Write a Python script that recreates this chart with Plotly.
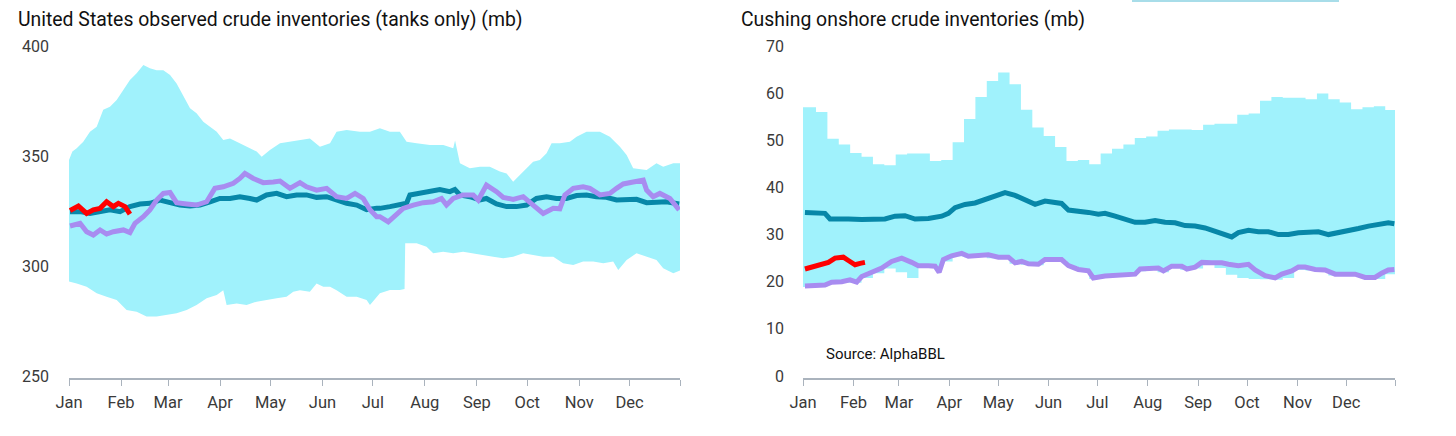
import plotly.graph_objects as go

W, H = 1456, 436

MONTHS = ["Jan", "Feb", "Mar", "Apr", "May", "Jun", "Jul", "Aug", "Sep", "Oct", "Nov", "Dec", ""]
MONTH_DAYS = [0, 31, 59, 90, 120, 151, 181, 212, 243, 273, 304, 334, 364]

# ---------------- US observed crude (tanks only), mb ----------------
us_band_hi_day = [0, 2, 4.6, 8.5, 12.5, 16.5, 20.4, 24.4, 28.4, 32.4, 36.3, 40.3, 44.3, 48.2, 52.2, 56.2,
                  60.2, 64.1, 68.1, 72.1, 76, 80, 84, 88, 91.9, 95.9, 99.9, 103.8, 107.8, 111.8, 114.8,
                  119.7, 125.7, 131.6, 137.6, 143.5, 149.5, 155.5, 159.4, 165.4, 173.3, 179.3, 185.2,
                  191.2, 197.1, 201.1, 207.1, 215, 223, 228.9, 230, 231, 232.9, 238.8, 244.8, 250.7,
                  256.7, 260.7, 264.6, 268.6, 272.6, 276.5, 280.5, 284.5, 287.5, 292.4, 298.4, 302.4,
                  308.3, 316.3, 322.2, 328.2, 332.2, 336.1, 344.1, 350, 354, 360, 364]
us_band_hi = [348.2, 352, 353.5, 356.5, 361, 363.3, 371, 372.4, 375.5, 380, 384.5, 387.6, 391.4, 389.9,
              389, 389, 386.8, 383, 377, 371.7, 369.4, 365.6, 363.3, 361, 357.3, 358, 356.5, 355, 353.5,
              352, 349.7, 352.7, 355.8, 356.5, 357.3, 358, 354.2, 355.8, 361, 361.8, 361, 361, 362.6,
              361, 361, 356.5, 355.8, 355, 355, 353.5, 357, 353, 346.7, 344.4, 345.1, 345.1, 342.9,
              342.1, 338.3, 341.4, 344.4, 347.4, 348.2, 351.2, 355.8, 355.8, 356.5, 358.8, 361, 361,
              358.8, 354.2, 350.5, 344.4, 343.6, 346.7, 345.1, 346.7, 346.7]

us_band_lo_day = [0, 4.6, 10.5, 16.5, 22.4, 28.4, 34.3, 40.3, 46.2, 52.2, 58.2, 64.1, 70.1, 76, 82, 88,
                  91.9, 93.9, 99.9, 105.8, 111.8, 117.7, 123.7, 129.6, 133.6, 137.6, 143.5, 147.5,
                  151.5, 155.5, 159.4, 165.4, 171.4, 177.3, 179.3, 185.2, 191.2, 197.1, 199.9, 200.3,
                  207.1, 213, 217, 222.9, 228.9, 234.8, 240.8, 246.8, 252.7, 258.7, 264.6, 270.6,
                  276.5, 282.5, 288.5, 294.4, 300.4, 306.3, 312.3, 318.3, 324.2, 327.2, 332.2, 338.1,
                  344.1, 350, 354, 360, 364]
us_band_lo = [292.9, 292.1, 290.6, 287.6, 286, 284.5, 280, 279.2, 277, 277, 277.7, 278.5, 280, 282.3,
              285.3, 286.8, 289, 282.3, 283, 282.3, 283.8, 284.5, 285.3, 286, 288.3, 289, 288.3, 292.1,
              290.6, 290.6, 289, 286, 286, 284.5, 282.3, 287.6, 289.1, 289.1, 289.5, 310.3, 310.3,
              308.8, 305.8, 306.5, 305.8, 306.5, 305.8, 305, 304.2, 303.5, 304.2, 305.8, 305, 304.2,
              304.2, 301.2, 300.5, 302, 302, 301.2, 302, 298.2, 302.7, 305.8, 304.2, 302.7, 299,
              296.7, 298]

us_avg_day = [0.6, 6.6, 12.5, 18.5, 24.4, 30.4, 36.3, 42.3, 48.2, 54.2, 60.2, 66.1, 72.1, 78, 84, 89.9,
              95.9, 101.8, 107.8, 111.8, 117.7, 123.7, 129.6, 135.6, 141.5, 147.5, 153.5, 159.4,
              165.4, 171.4, 177.3, 183.3, 185.2, 191.2, 197.1, 201.1, 203.1, 209, 215, 220.9, 226.9,
              229.9, 232.9, 238.8, 244.8, 248.7, 254.7, 260.7, 266.6, 272.6, 278.5, 284.5, 290.4,
              296.4, 302.4, 308.3, 314.2, 320.2, 326.2, 332.2, 338.1, 344.1, 350, 356, 363.5]
us_avg = [324.7, 324.7, 323.9, 324.7, 325.5, 324.7, 327, 328.2, 328.5, 330, 328.8, 327.7, 327.3, 327.7,
          329.2, 330.7, 330.7, 331.5, 330.7, 330, 332.3, 333, 331.5, 332.3, 332.3, 331.2, 331.5, 330,
          328.5, 327.7, 325.6, 326.3, 326.2, 327, 327.7, 328.5, 332.3, 333, 334.1, 334.8, 333.8,
          334.8, 332.3, 331.5, 330, 330.7, 328.2, 327, 327, 327.7, 330.7, 331.5, 330.7, 330.7, 332,
          332.3, 331.5, 331.2, 330, 330, 330.3, 328.8, 329.2, 329.2, 328.2]

us_prev_day = [0.6, 6.6, 10.5, 14.5, 18.5, 22.4, 26.4, 32.4, 36.3, 39.3, 44.3, 48.2, 52.2, 56.2, 60.2,
               64.1, 70.1, 76, 82, 86.9, 91.9, 97.9, 101.8, 104.8, 109.8, 115.7, 121.7, 125.7, 131.6,
               137.6, 141.5, 147.5, 153.5, 159.4, 165.4, 170.4, 175.3, 179.3, 183.3, 185.2, 190.2,
               195.2, 199.1, 205.1, 211, 217, 221.9, 224.9, 228.9, 234.8, 240.8, 243.8, 248.7, 254.7,
               258.7, 264.6, 270.6, 276.5, 282.5, 288.5, 292.4, 295.4, 300.4, 306.3, 310.3, 316.3,
               322.2, 326.2, 330.2, 336.1, 342.1, 344.1, 348, 352, 358, 363.5]
us_prev = [318.2, 319.4, 315.6, 314.1, 316.4, 314.5, 315.6, 316.4, 315.2, 319.4, 322.4, 325.5, 330, 333,
           333.4, 328.8, 328.2, 327.7, 329.2, 335.3, 336, 337.6, 339.8, 342.1, 339.8, 337.9, 338.2,
           338.6, 335.3, 337.9, 336, 334.5, 335.3, 331.5, 330.7, 333, 330.7, 325.6, 322.4, 322.4,
           320.1, 323.2, 326.2, 327.7, 328.8, 329.2, 330.7, 327.7, 330.7, 332.3, 332.3, 330, 336.8,
           333.8, 331.2, 330.3, 331.5, 327.7, 323.9, 326.2, 326, 332.3, 335.3, 336, 335.3, 332.3,
           333, 335.3, 337.3, 338.2, 339, 334.5, 331.5, 333, 330.7, 325.5]

us_cur_day = [0.6, 5.6, 10.5, 14.5, 18.5, 22.4, 26.4, 29.4, 33.4, 36.3]
us_cur = [325.2, 327.3, 323.9, 325.5, 326.2, 329.2, 327, 328.5, 327, 323.6]

# ---------------- Cushing onshore crude, mb (weekly band) ----------------
cu_band_hi = [57.0, 56.0, 50.3, 49.1, 47.3, 46.5, 44.9, 44.7, 47.0, 47.2, 47.2, 45.6, 45.8, 49.6, 54.5,
              59.2, 62.6, 64.4, 61.9, 56.5, 52.7, 50.9, 48.6, 45.6, 45.8, 44.9, 47.2, 48.2, 49.1, 50.5,
              50.8, 52.0, 52.3, 52.3, 52.2, 53.3, 53.5, 53.5, 55.4, 55.7, 58.4, 59.2, 59.0, 59.0, 58.7,
              59.9, 58.7, 58.0, 56.6, 57.0, 57.2, 56.4]
cu_band_lo = [18.9, 19.0, 19.6, 19.8, 19.8, 20.8, 21.8, 22.8, 22.0, 20.8, 23.2, 23.0, 24.3, 25.4, 25.2,
              25.3, 25.0, 25.0, 23.8, 23.6, 23.5, 24.5, 24.5, 23.2, 22.3, 20.6, 20.9, 21.1, 21.3, 22.2,
              22.6, 22.0, 23.0, 22.5, 22.8, 23.8, 22.9, 21.5, 20.8, 20.6, 20.5, 20.4, 20.8, 22.5, 22.4,
              22.2, 21.3, 21.2, 21.3, 20.6, 20.6, 21.6]

cu_avg_day = [1.2, 7.4, 13.5, 16.6, 21.7, 27.9, 36.1, 44.3, 50.4, 56.6, 62.7, 68.9, 77.1, 85.3, 89.4,
              93.5, 99.6, 105.8, 111.9, 118.1, 124.2, 130.4, 136.5, 142.7, 148.8, 155, 159, 163.2,
              169.3, 175.5, 181.6, 185.7, 191.9, 198, 204.2, 210.3, 216.5, 222.6, 228.8, 234.9, 241.1,
              247.2, 253.4, 259.5, 263.6, 267.7, 273.9, 280, 286.2, 292.3, 298.5, 304.6, 310.8, 316.9,
              323.1, 329.2, 335.4, 341.5, 347.7, 353.8, 359.9, 363.6]
cu_avg = [34.7, 34.7, 34.5, 33.3, 33.4, 33.3, 33.2, 33.4, 33.3, 33.9, 34.0, 33.3, 33.4, 33.9, 34.5, 35.7,
          36.4, 36.7, 37.4, 38.1, 38.9, 38.3, 37.4, 36.4, 37.1, 36.9, 36.6, 35.2, 35.0, 34.7, 34.3, 34.5,
          33.9, 33.3, 32.6, 32.6, 33.0, 32.6, 32.5, 31.9, 31.8, 31.4, 30.7, 30.0, 29.5, 30.4, 30.9, 30.6,
          30.6, 30.0, 30.0, 30.4, 30.6, 30.6, 30.0, 30.4, 30.7, 31.3, 31.8, 32.1, 32.5, 32.3]

cu_prev_day = [1.2, 7.4, 13.5, 17.6, 23.8, 28.9, 33, 36.1, 42.2, 48.4, 54.5, 60.7, 66.8, 70.9, 77.1, 81.2,
               83.7, 86.3, 91.4, 97.6, 101.7, 107.8, 114, 120.1, 126.3, 130.4, 134.5, 138.6, 144.7,
               148.8, 155, 159, 163.2, 169.3, 175.5, 178.5, 185.7, 191.9, 198, 204.2, 207.3, 212.4,
               218.5, 221.6, 226.7, 232.9, 236, 241.1, 245.2, 251.3, 257.5, 261.6, 267.7, 273.9, 278,
               284.1, 290.3, 294.4, 300.5, 304.6, 308.7, 314.9, 321, 327.2, 333.3, 339.5, 345.6, 351.7,
               355.8, 359.9, 363.6]
cu_prev = [19.1, 19.1, 19.3, 19.9, 20.0, 20.4, 19.9, 21.1, 22.0, 22.9, 24.3, 25.0, 24.1, 23.4, 23.4, 23.3,
           22.0, 24.7, 25.5, 26.0, 25.4, 25.5, 25.7, 25.2, 25.2, 24.0, 24.3, 23.8, 23.7, 24.7, 24.8, 24.7,
           23.4, 22.6, 22.3, 20.8, 21.2, 21.3, 21.5, 21.6, 22.7, 22.9, 22.9, 22.3, 23.3, 23.3, 22.7, 23.1,
           24.1, 24.0, 24.0, 23.7, 23.4, 23.7, 22.5, 21.3, 20.8, 21.6, 22.3, 23.1, 23.1, 22.6, 22.5, 21.6,
           21.5, 21.6, 20.9, 20.9, 21.8, 22.5, 22.6]

cu_cur_day = [1.2, 5.3, 11.5, 15.6, 19.7, 24.8, 27.9, 32, 35.1, 38.1]
cu_cur = [22.7, 23.1, 23.6, 24.1, 25.0, 25.2, 24.5, 23.6, 23.9, 24.1]

# week start days for the weekly Cushing band (last point closes the year)
cu_week_day = [0] + [1 + 7 * k for k in range(1, len(cu_band_hi))] + [364]
cu_band_hi_s = cu_band_hi + [cu_band_hi[-1]]
cu_band_lo_s = cu_band_lo + [cu_band_lo[-1]]

# ---------------- styling ----------------
BAND = "#a0f2fc"
TEAL = "#0787a8"
PURPLE = "#a88cf0"
RED = "#ff0000"
AXIS = "#aab3bd"
FONT = "Roboto"
TICKC = "#3a3a3a"
LW = 5

fig = go.Figure()

# left panel: band drawn as a closed polygon (hi then reversed lo)
fig.add_trace(go.Scatter(x=us_band_hi_day + us_band_lo_day[::-1], y=us_band_hi + us_band_lo[::-1],
                         mode="lines", line=dict(width=0, color=BAND), fill="toself", fillcolor=BAND,
                         xaxis="x", yaxis="y", showlegend=False, hoverinfo="skip"))
fig.add_trace(go.Scatter(x=us_avg_day, y=us_avg, mode="lines", line=dict(width=LW, color=TEAL),
                         xaxis="x", yaxis="y", showlegend=False))
fig.add_trace(go.Scatter(x=us_prev_day, y=us_prev, mode="lines", line=dict(width=LW, color=PURPLE),
                         xaxis="x", yaxis="y", showlegend=False))
fig.add_trace(go.Scatter(x=us_cur_day, y=us_cur, mode="lines", line=dict(width=LW, color=RED),
                         xaxis="x", yaxis="y", showlegend=False))

# right panel: weekly stepped band
fig.add_trace(go.Scatter(x=cu_week_day, y=cu_band_lo_s, mode="lines",
                         line=dict(width=0, color=BAND, shape="hv"),
                         xaxis="x2", yaxis="y2", hoverinfo="skip", showlegend=False))
fig.add_trace(go.Scatter(x=cu_week_day, y=cu_band_hi_s, mode="lines",
                         line=dict(width=0, color=BAND, shape="hv"), fill="tonexty", fillcolor=BAND,
                         xaxis="x2", yaxis="y2", showlegend=False))
fig.add_trace(go.Scatter(x=cu_avg_day, y=cu_avg, mode="lines", line=dict(width=LW, color=TEAL),
                         xaxis="x2", yaxis="y2", showlegend=False))
fig.add_trace(go.Scatter(x=cu_prev_day, y=cu_prev, mode="lines", line=dict(width=LW, color=PURPLE),
                         xaxis="x2", yaxis="y2", showlegend=False))
fig.add_trace(go.Scatter(x=cu_cur_day, y=cu_cur, mode="lines", line=dict(width=LW, color=RED),
                         xaxis="x2", yaxis="y2", showlegend=False))


def px_x(p):
    return p / W


def px_y(p):
    return 1 - p / H


ydom = [px_y(378), px_y(46)]

xcommon = dict(range=[0, 364], tickmode="array", tickvals=MONTH_DAYS, ticktext=MONTHS,
               showline=True, linecolor=AXIS, linewidth=1.5, ticks="outside", ticklen=6,
               tickcolor=AXIS, tickwidth=1.2, showgrid=False, zeroline=False,
               tickfont=dict(family=FONT, size=16.5, color=TICKC), ticklabelstandoff=2,
               automargin=False, fixedrange=True)
ycommon = dict(showline=False, ticks="", showgrid=False, zeroline=False,
               tickfont=dict(family=FONT, size=16, color=TICKC), automargin=False, fixedrange=True)

fig.update_layout(
    width=W, height=H, margin=dict(l=0, r=0, t=0, b=0),
    paper_bgcolor="white", plot_bgcolor="white", showlegend=False,
    xaxis=dict(domain=[px_x(69), px_x(680)], anchor="y", **xcommon),
    yaxis=dict(domain=ydom, anchor="x", range=[250 - 2 / 2.2, 400], tickvals=[250, 300, 350, 400],
               ticklabelstandoff=19, **ycommon),
    xaxis2=dict(domain=[px_x(803), px_x(1395)], anchor="y2", **xcommon),
    yaxis2=dict(domain=ydom, anchor="x2", range=[-2 / 4.7, 70], tickvals=[0, 10, 20, 30, 40, 50, 60, 70],
                ticklabelstandoff=18, **ycommon),
)

fig.add_annotation(text="United States observed crude inventories (tanks only) (mb)", xref="paper",
                   yref="paper", x=px_x(16), y=px_y(20), xanchor="left", yanchor="middle",
                   showarrow=False, font=dict(family=FONT, size=19.4, color="#111111"))
fig.add_annotation(text="Cushing onshore crude inventories (mb)", xref="paper", yref="paper",
                   x=px_x(739), y=px_y(20), xanchor="left", yanchor="middle", showarrow=False,
                   font=dict(family=FONT, size=19.4, color="#111111"))
fig.add_annotation(text="Source: AlphaBBL", xref="paper", yref="paper", x=px_x(824), y=px_y(354),
                   xanchor="left", yanchor="middle", showarrow=False,
                   font=dict(family=FONT, size=15, color="#111111"))

fig.add_shape(type="rect", xref="paper", yref="paper", x0=px_x(1132), x1=px_x(1339), y0=px_y(2), y1=1,
              fillcolor="#a8dde9", line=dict(width=0), layer="above")

fig.write_html("out.html", config={"displayModeBar": False},
               post_script="document.body.style.margin='0';document.body.style.overflow='hidden';")
